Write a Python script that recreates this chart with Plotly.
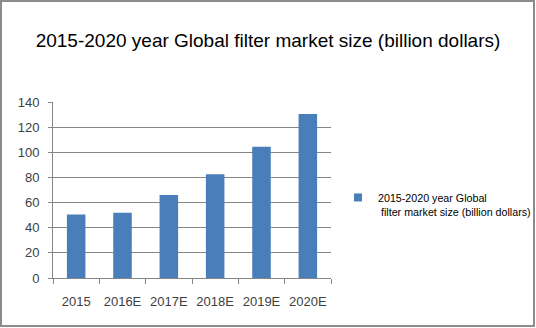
import plotly.graph_objects as go

categories = ["2015", "2016E", "2017E", "2018E", "2019E", "2020E"]
values = [50.5, 52, 66, 82.5, 104.5, 130.5]
series_name = "2015-2020 year Global<br> filter market size (billion dollars)"
title_text = "2015-2020 year Global filter market size (billion dollars)"
y_ticks = [0, 20, 40, 60, 80, 100, 120, 140]
bar_color = "#4a7ebb"

fig = go.Figure()
fig.add_trace(go.Bar(x=categories, y=values, name=series_name,
                     marker=dict(color=bar_color, line=dict(width=0)),
                     showlegend=False))
# legend-only entry with a small square symbol, matching the bar series
fig.add_trace(go.Scatter(x=[None], y=[None], mode="markers", name=series_name,
                         marker=dict(symbol="square", size=8, color=bar_color),
                         showlegend=True))

grid = "#868686"
fig.update_layout(
    width=536, height=328,
    margin=dict(l=53, r=205, t=102, b=50, autoexpand=False),
    paper_bgcolor="white", plot_bgcolor="white",
    bargap=0.6,
    title=dict(text=title_text, x=0.5, xref="container", xanchor="center",
               y=1 - 40/328, yref="container", yanchor="middle",
               font=dict(family="Liberation Sans, Arial", size=19, color="black")),
    showlegend=True,
    legend=dict(x=(338-53)/278, xref="paper", y=(278-184)/176, yref="paper", yanchor="top",
                xanchor="left", valign="top", itemwidth=30,
                font=dict(family="Liberation Sans, Arial", size=10.7, color="black"),
                bgcolor="rgba(0,0,0,0)"),
    xaxis=dict(showline=True, linecolor=grid, linewidth=1, ticks="outside", ticklen=5,
               tickcolor=grid, tickson="boundaries", showgrid=False, automargin=False,
               tickangle=0,
               tickfont=dict(family="Liberation Sans, Arial", size=13, color="#404040"),
               ticklabelstandoff=11),
    yaxis=dict(range=[0, 140], tickvals=y_ticks, showline=True, linecolor=grid, linewidth=1,
               ticks="outside", ticklen=4, tickcolor=grid, showgrid=True, gridcolor=grid,
               gridwidth=1, zeroline=False, automargin=False,
               tickfont=dict(family="Liberation Sans, Arial", size=13, color="#404040"),
               ticklabelstandoff=6),
    shapes=[dict(type="rect", xref="paper", yref="paper",
                 x0=-52/278, x1=(534-53)/278, y0=-(326-278)/176, y1=(278-1)/176,
                 line=dict(color="#8c8c8c", width=2), fillcolor="rgba(0,0,0,0)", layer="below")],
)

fig.write_html("out.html")
